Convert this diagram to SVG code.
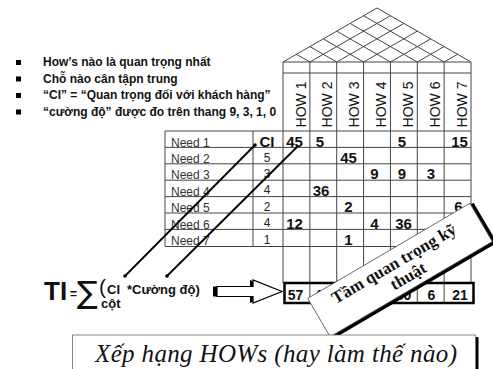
<svg xmlns="http://www.w3.org/2000/svg" width="493" height="369" viewBox="0 0 493 369">
<style>
.b{font-family:"Liberation Sans",Arial,sans-serif;font-weight:bold;font-size:12px;fill:#111}
.g{stroke:#444;stroke-width:1;fill:none}
.nd{font-family:"Liberation Sans",Arial,sans-serif;font-size:12px;fill:#333}
.ci{font-family:"Liberation Sans",Arial,sans-serif;font-size:12px;fill:#222;text-anchor:middle}
.v{font-family:"Liberation Sans",Arial,sans-serif;font-weight:bold;font-size:15px;fill:#111;text-anchor:middle}
.how{font-family:"Liberation Sans",Arial,sans-serif;font-size:14px;fill:#111;text-anchor:middle}
.t{font-family:"Liberation Sans",Arial,sans-serif;font-weight:bold;font-size:14px;fill:#111;text-anchor:middle}
.con{stroke:#000;stroke-width:1.8;fill:none}
.bn{font-family:"Liberation Serif","Times New Roman",serif;font-weight:bold;font-size:17px;fill:#111;text-anchor:middle}
</style>
<rect width="493" height="369" fill="#fff"/>
<g id="bullets">
<rect x="16" y="60" width="5" height="5" fill="#000"/>
<rect x="16" y="76.5" width="5" height="5" fill="#000"/>
<rect x="16" y="93" width="5" height="5" fill="#000"/>
<rect x="16" y="109.5" width="5" height="5" fill="#000"/>
<text class="b" x="43" y="66">How’s nào là quan trọng nhất</text>
<text class="b" x="43" y="82.5">Chỗ nào cân tậpn trung</text>
<text class="b" x="43" y="99">“CI” = “Quan trọng đối với khách hàng”</text>
<text class="b" x="43" y="115.5">“cường độ” được đo trên thang 9, 3, 1, 0</text>
</g>
<g id="roof" class="g">
<path d="M283,62 L377,8 L471,62 Z"/>
<path d="M309.86,62 L390.43,15.72 M336.71,62 L403.86,23.43 M363.57,62 L417.29,31.14 M390.43,62 L430.71,38.86 M417.29,62 L444.14,46.57 M444.14,62 L457.57,54.29"/>
<path d="M309.86,62 L296.43,54.29 M336.71,62 L309.86,46.57 M363.57,62 L323.29,38.86 M390.43,62 L336.71,31.14 M417.29,62 L350.14,23.43 M444.14,62 L363.57,15.72"/>
</g>
<g id="grid" class="g">
<path d="M283,73 H471"/>
<path d="M283,62 V283 M309.86,62 V283 M336.71,62 V283 M363.57,62 V283 M390.43,62 V283 M417.29,62 V283 M444.14,62 V283 M471,62 V283"/>
<path d="M165,131 H471 M165,147.4 H471 M165,163.8 H471 M165,180.2 H471 M165,196.6 H471 M165,213 H471 M165,229.4 H471 M165,246.5 H471"/>
<path d="M165,131 V246.5 M253,131 V246.5"/>
</g>
<g id="how-headers">
<text class="how" transform="translate(305.5,104.5) rotate(-90)">HOW 1</text>
<text class="how" transform="translate(332.4,104.5) rotate(-90)">HOW 2</text>
<text class="how" transform="translate(359.2,104.5) rotate(-90)">HOW 3</text>
<text class="how" transform="translate(386.1,104.5) rotate(-90)">HOW 4</text>
<text class="how" transform="translate(412.9,104.5) rotate(-90)">HOW 5</text>
<text class="how" transform="translate(439.8,104.5) rotate(-90)">HOW 6</text>
<text class="how" transform="translate(466.6,104.5) rotate(-90)">HOW 7</text>
</g>
<g id="needs">
<text class="nd" x="171" y="146.5">Need 1</text>
<text class="nd" x="171" y="162.9">Need 2</text>
<text class="nd" x="171" y="179.3">Need 3</text>
<text class="nd" x="171" y="195.7">Need 4</text>
<text class="nd" x="171" y="212.1">Need 5</text>
<text class="nd" x="171" y="228.5">Need 6</text>
<text class="nd" x="171" y="244.9">Need 7</text>
</g>
<g id="ci-column">
<text class="v" x="267" y="146.5">CI</text>
<text class="ci" x="267" y="161.5">5</text>
<text class="ci" x="267" y="177.9">3</text>
<text class="ci" x="267" y="194.3">4</text>
<text class="ci" x="267" y="210.7">2</text>
<text class="ci" x="267" y="227.1">4</text>
<text class="ci" x="267" y="243.5">1</text>
</g>
<g id="matrix-values">
<text class="v" x="294.5" y="146.5">45</text>
<text class="v" x="320" y="146.5">5</text>
<text class="v" x="402" y="146.5">5</text>
<text class="v" x="459.5" y="146.5">15</text>
<text class="v" x="348.5" y="162.9">45</text>
<text class="v" x="374.5" y="179.3">9</text>
<text class="v" x="402" y="179.3">9</text>
<text class="v" x="431" y="179.3">3</text>
<text class="v" x="321" y="195.7">36</text>
<text class="v" x="348.5" y="212.1">2</text>
<text class="v" x="458.5" y="212.1">6</text>
<text class="v" x="294.5" y="228.5">12</text>
<text class="v" x="374.5" y="228.5">4</text>
<text class="v" x="403.5" y="228.5">36</text>
<text class="v" x="348.5" y="244.9">1</text>
</g>
<g id="connectors">
<line class="con" x1="255" y1="145" x2="125" y2="276"/>
<line class="con" x1="298" y1="146" x2="167" y2="276"/>
<circle cx="255" cy="145" r="1.8" fill="#000"/>
<circle cx="125" cy="276" r="1.8" fill="#000"/>
<circle cx="167" cy="276" r="1.8" fill="#000"/>
</g>
<g id="formula">
<text x="44" y="300" style="font-family:'Liberation Sans',Arial,sans-serif;font-weight:bold;font-size:26px;fill:#111">TI</text>
<text x="70" y="298" class="b">=</text>
<text x="77" y="303" style="font-family:'DejaVu Sans','Liberation Sans',sans-serif;font-size:31px;fill:#111">∑</text>
<text x="99" y="294" style="font-family:'Liberation Sans',Arial,sans-serif;font-size:21px;fill:#111">(</text>
<text x="107" y="294" class="b" style="font-size:13px">CI</text>
<text x="127" y="294" class="b" style="font-size:13px">*Cường độ)</text>
<text x="101" y="308" class="b" style="font-size:13px">cột</text>
</g>
<g id="arrow">
<polygon points="213,286.5 250,286.5 250,280 279,291.5 250,303 250,296.5 213,296.5" fill="#000"/>
<polygon points="217,286.5 253,286.5 253,280 282,291.5 253,303 253,296.5 217,296.5" fill="#fff" stroke="#000" stroke-width="1.2"/>
</g>
<g id="ti-row">
<rect x="284.5" y="283" width="189" height="20" fill="#fff" stroke="#000" stroke-width="2.5"/>
<path class="g" d="M309.86,284 V302 M336.71,284 V302 M363.57,284 V302 M390.43,284 V302 M417.29,284 V302 M444.14,284 V302"/>
<text class="t" x="295.5" y="299.5">57</text>
<text class="t" x="322" y="299.5">41</text>
<text class="t" x="403.5" y="299.5">50</text>
<text class="t" x="431.5" y="299.5">6</text>
<text class="t" x="460" y="299.5">21</text>
</g>
<g id="banner" transform="translate(400,270) rotate(-30.4)">
<path d="M94,-22.2 V22.2 H-94" stroke="#000" stroke-width="4" fill="none" transform="translate(1.5,1.5)"/>
<rect x="-94" y="-22.2" width="188" height="44.4" fill="#fff" stroke="#555" stroke-width="0.8"/>
<text class="bn" x="-2" y="-3">Tầm quan trọng kỹ</text>
<text class="bn" x="4" y="15">thuật</text>
</g>
<g id="title-box">
<path d="M477,337 V369" stroke="#000" stroke-width="3"/>
<rect x="72.5" y="335" width="403" height="40" fill="#fff" stroke="#666" stroke-width="0.8"/>
<text x="276" y="362" text-anchor="middle" textLength="362" style="font-family:'Liberation Serif','Times New Roman',serif;font-style:italic;font-size:25px;fill:#111">Xếp hạng HOWs (hay làm thế nào)</text>
</g>
</svg>
